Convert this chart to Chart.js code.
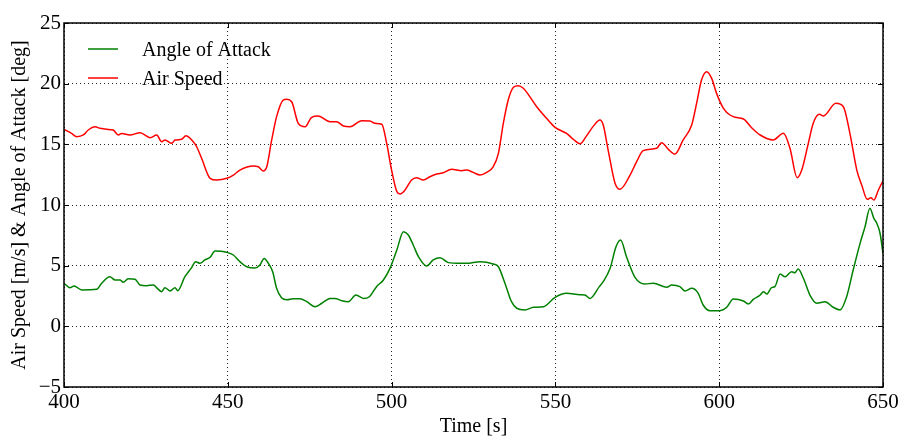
<!DOCTYPE html>
<html>
<head>
<meta charset="utf-8">
<script src="https://cdn.jsdelivr.net/npm/chart.js@4/dist/chart.umd.min.js"></script>
<style>
  html, body { margin: 0; padding: 0; background: #fff; }
</style>
</head>
<body>
<canvas id="myChart" width="899" height="436"></canvas>
<script>
const xTicks = [400, 450, 500, 550, 600, 650]
const yTicks = [-5, 0, 5, 10, 15, 20, 25]

const aoaTime = [400, 401.8, 403.1, 405.4, 410, 411.5, 414, 415.6, 417.1, 418.1, 419.6, 421.7, 423.2, 425.2, 427.3, 428.5, 429.8, 430.8, 432.4, 433.9, 434.7, 436.9, 438.8, 440.2, 441.5, 443, 444.6, 446.1, 449.7, 451.7, 453.7, 455.8, 458.3, 459.8, 461.1, 462.4, 463.7, 464.9, 466.4, 468, 470, 472, 474.1, 476.6, 478.7, 481.2, 482.7, 484.8, 486.8, 489.1, 491.4, 493.2, 495.4, 497.5, 499.5, 501.6, 503.6, 505.1, 506.6, 508.2, 510.7, 512.7, 514.8, 517.3, 520.9, 522.9, 527, 531, 532.6, 534.6, 536.6, 538.2, 540.7, 543.3, 546.3, 549.9, 553.4, 557.5, 559, 560.6, 563.4, 564.6, 566.7, 568.5, 569.9, 571.7, 574.3, 577.3, 579.9, 584, 585.5, 588, 589.6, 591.6, 593.6, 595.1, 597.2, 600.2, 602.3, 604.3, 607.4, 608.9, 610.4, 612.5, 613.5, 614.5, 616, 617, 618.6, 620.1, 622.1, 623.1, 624.1, 625.7, 627.7, 629.8, 632.3, 634.8, 636.9, 638.9, 640.9, 643, 644.5, 646, 647.2, 648.1, 649.1, 650]
const aoaValue = [3.55, 3.19, 3.32, 3.0, 3.05, 3.55, 4.09, 3.82, 3.82, 3.63, 3.93, 3.88, 3.41, 3.35, 3.41, 3.13, 2.86, 3.19, 2.91, 3.19, 2.94, 4.09, 4.78, 5.33, 5.19, 5.47, 5.69, 6.21, 6.1, 5.88, 5.33, 4.91, 4.8, 5.05, 5.6, 5.19, 4.5, 3.13, 2.36, 2.2, 2.28, 2.28, 2.03, 1.62, 1.9, 2.3, 2.3, 2.11, 2.03, 2.58, 2.3, 2.44, 3.27, 3.82, 4.78, 6.29, 7.8, 7.53, 6.7, 5.74, 4.97, 5.47, 5.66, 5.25, 5.19, 5.19, 5.33, 5.14, 4.91, 3.55, 2.03, 1.49, 1.35, 1.57, 1.62, 2.39, 2.72, 2.6, 2.58, 2.3, 3.27, 3.68, 4.78, 6.56, 7.12, 5.74, 4.04, 3.49, 3.55, 3.22, 3.41, 3.27, 2.91, 3.13, 2.72, 1.76, 1.29, 1.29, 1.57, 2.25, 2.09, 1.84, 2.22, 2.58, 2.86, 2.66, 3.19, 3.27, 4.31, 4.09, 4.5, 4.42, 4.72, 3.96, 2.58, 1.9, 2.03, 1.57, 1.35, 2.44, 4.64, 6.84, 8.2, 9.73, 8.9, 8.5, 7.67, 6.0]

const speedTime = [400, 402.3, 403.9, 405.9, 407.4, 409.5, 411, 413, 415, 416.6, 417.6, 420.1, 423.2, 426.3, 428.3, 429.8, 430.8, 432.9, 433.9, 435.9, 437.2, 439, 440.5, 442, 444.6, 446.6, 449.7, 451.7, 453.7, 457.8, 459.3, 460.8, 461.9, 463.4, 464.9, 466.9, 468, 469.5, 471.5, 473.6, 475.6, 477.6, 481.2, 483.2, 485.3, 487.3, 490.9, 493.4, 494.9, 497, 498.5, 500, 501.6, 502.6, 504.1, 506.1, 507.6, 509.7, 511.7, 513.8, 515.8, 518.3, 521.4, 522.9, 524.9, 527, 529, 531, 532.6, 534.1, 535.6, 537.2, 538.7, 540.2, 542.2, 544.3, 547.3, 549.9, 553.4, 555.5, 557.5, 559.5, 561.6, 563.6, 564.6, 566.1, 568.2, 569.7, 572.8, 574.8, 576.8, 580.9, 582.4, 584.5, 586.5, 589, 591.6, 593.1, 594.6, 596.2, 597.7, 599.2, 601.3, 604.3, 607.4, 609.9, 612.5, 616.5, 619.6, 621.6, 623.8, 625.2, 627.2, 628.7, 630.6, 631.8, 635.6, 637.9, 639.9, 642, 643.5, 645.2, 646.3, 647.2, 648.6, 650]
const speedValue = [16.24, 15.9, 15.63, 15.77, 16.18, 16.45, 16.32, 16.24, 16.18, 15.77, 15.9, 15.77, 15.96, 15.55, 15.77, 15.22, 15.36, 15.08, 15.36, 15.41, 15.71, 15.36, 14.8, 13.85, 12.2, 12.06, 12.2, 12.47, 12.88, 13.21, 13.15, 12.8, 13.15, 15.36, 17.28, 18.65, 18.71, 18.51, 16.73, 16.45, 17.23, 17.34, 16.87, 16.87, 16.51, 16.45, 16.95, 16.92, 16.73, 16.65, 15.08, 12.88, 11.1, 10.91, 11.24, 12.06, 12.25, 12.06, 12.33, 12.55, 12.66, 12.94, 12.83, 12.88, 12.69, 12.47, 12.69, 13.15, 14.26, 16.73, 18.65, 19.7, 19.83, 19.62, 18.93, 18.1, 17.15, 16.4, 15.9, 15.41, 15.05, 15.7, 16.5, 17.0, 16.59, 14.53, 11.79, 11.29, 12.47, 13.57, 14.48, 14.67, 15.14, 14.59, 14.2, 15.36, 16.59, 18.38, 20.3, 20.99, 20.44, 19.2, 17.97, 17.28, 17.09, 16.37, 15.77, 15.36, 15.91, 14.67, 12.25, 12.88, 15.08, 16.73, 17.47, 17.34, 18.38, 18.1, 15.91, 12.88, 11.65, 10.47, 10.6, 10.41, 11.24, 12.0]

const serif = '"Liberation Serif", "DejaVu Serif", serif'

// frame + inward ticks like matplotlib classic
const framePlugin = {
  id: 'frame',
  afterDraw(chart) {
    const { ctx, chartArea: a, scales } = chart
    ctx.save()
    ctx.strokeStyle = '#000'
    ctx.lineWidth = 1
    const L = 5
    scales.x.ticks.forEach((t) => {
      const px = Math.round(scales.x.getPixelForValue(t.value)) + 0.5
      ctx.beginPath()
      ctx.moveTo(px, a.bottom); ctx.lineTo(px, a.bottom - L)
      ctx.moveTo(px, a.top); ctx.lineTo(px, a.top + L)
      ctx.stroke()
    })
    scales.y.ticks.forEach((t) => {
      const py = Math.round(scales.y.getPixelForValue(t.value)) + 0.5
      ctx.beginPath()
      ctx.moveTo(a.left, py); ctx.lineTo(a.left + L, py)
      ctx.moveTo(a.right, py); ctx.lineTo(a.right - L, py)
      ctx.stroke()
    })
    ctx.lineWidth = 1.5
    ctx.strokeRect(a.left, a.top, a.right - a.left, a.bottom - a.top)
    ctx.restore()
  },
}

// legend inside the axes, top left, no frame
const legendPlugin = {
  id: 'innerLegend',
  afterDraw(chart) {
    const { ctx, chartArea: a } = chart
    ctx.save()
    ctx.font = '20px ' + serif
    ctx.textBaseline = 'middle'
    ctx.fillStyle = '#000'
    chart.data.datasets.forEach((ds, i) => {
      const y = a.top + 26 + i * 29
      ctx.strokeStyle = ds.borderColor
      ctx.lineWidth = 1.5
      ctx.beginPath()
      ctx.moveTo(a.left + 24, y)
      ctx.lineTo(a.left + 54, y)
      ctx.stroke()
      ctx.fillText(ds.label, a.left + 78, y + 2)
    })
    ctx.restore()
  },
}

const gridOpts = { color: 'rgba(0,0,0,0.85)', lineWidth: 1, drawTicks: false }
const borderOpts = { display: false, dash: [1, 3] }

const ctx = document.getElementById('myChart').getContext('2d')
const myChart = new Chart(ctx, {
  type: 'line',
  data: {
    datasets: [
      {
        label: 'Angle of Attack',
        data: aoaTime.map((t, i) => ({ x: t, y: aoaValue[i] })),
        borderColor: '#008000',
        borderWidth: 1.5,
        pointRadius: 0,
        cubicInterpolationMode: 'monotone',
      },
      {
        label: 'Air Speed',
        data: speedTime.map((t, i) => ({ x: t, y: speedValue[i] })),
        borderColor: '#ff0000',
        borderWidth: 1.5,
        pointRadius: 0,
        cubicInterpolationMode: 'monotone',
      },
    ],
  },
  options: {
    responsive: false,
    animation: false,
    devicePixelRatio: 1,
    layout: { padding: { top: 23, right: 16, left: 0, bottom: 0 } },
    plugins: {
      legend: { display: false },
      tooltip: { enabled: false },
    },
    scales: {
      x: {
        type: 'linear',
        min: 400,
        max: 650,
        afterBuildTicks: (s) => { s.ticks = xTicks.map((v) => ({ value: v })) },
        afterFit: (s) => { s.height = 49; s.paddingLeft = 0; s.paddingRight = 0 },
        grid: gridOpts,
        border: borderOpts,
        ticks: { color: '#000', font: { family: serif, size: 21 }, padding: 3, maxRotation: 0 },
        title: { display: true, text: 'Time [s]', color: '#000', font: { family: serif, size: 20 }, padding: { top: 0, bottom: -3 } },
      },
      y: {
        min: -5,
        max: 25,
        afterBuildTicks: (s) => { s.ticks = yTicks.map((v) => ({ value: v })) },
        afterFit: (s) => { s.width = 64 },
        grid: gridOpts,
        border: borderOpts,
        ticks: {
          color: '#000',
          font: { family: serif, size: 21 },
          padding: 3,
          callback: (v) => String(v).replace('-', '\u2212'),
        },
        title: { display: true, text: 'Air Speed [m/s] & Angle of Attack [deg]', color: '#000', font: { family: serif, size: 20 }, padding: { top: 8, bottom: 0 } },
      },
    },
  },
  plugins: [framePlugin, legendPlugin],
})
</script>
</body>
</html>
